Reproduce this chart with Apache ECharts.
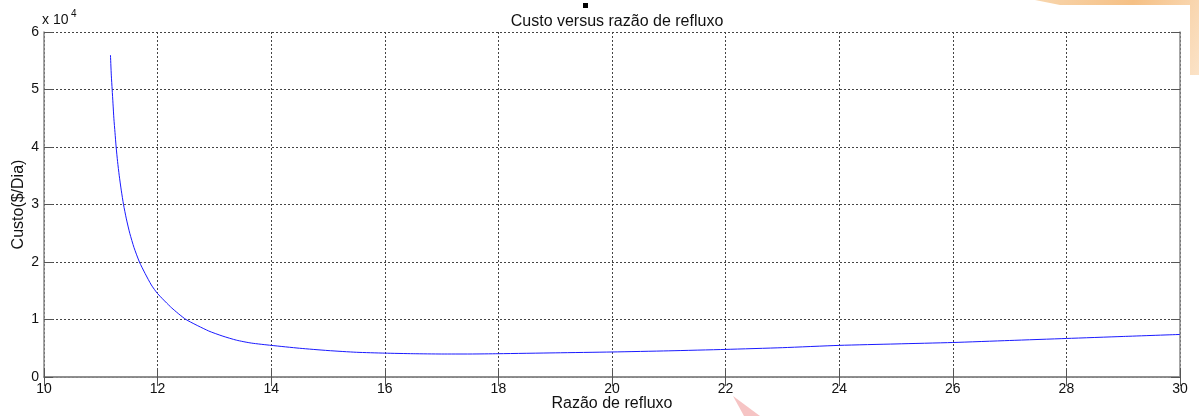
<!DOCTYPE html>
<html>
<head>
<meta charset="utf-8">
<script src="https://cdn.jsdelivr.net/npm/echarts@6/dist/echarts.min.js"></script>
<style>
html,body{margin:0;padding:0;background:#fff;}
#chart{width:1199px;height:416px;}
</style>
</head>
<body>
<div id="chart"></div>
<script>
// Razão de refluxo (x) and Custo ($/Dia) (y)
const refluxRatio = [11.17, 11.185, 11.20, 11.215, 11.23, 11.25, 11.27, 11.295, 11.325, 11.36, 11.40, 11.45, 11.51, 11.585, 11.68, 11.78, 11.89, 12.0, 12.25, 12.5, 12.9, 13.15, 13.39, 13.65, 14.0, 14.5, 15.0, 15.5, 16.0, 16.5, 17.0, 17.5, 18.0, 19.0, 20.0, 21.0, 22.0, 23.0, 24.0, 25.0, 26.0, 27.0, 28.0, 29.0, 30.0];
const cost = [56000, 52500, 50000, 47500, 45000, 42500, 40000, 37500, 35000, 32500, 30000, 27500, 25000, 22500, 20000, 18000, 16000, 14500, 12000, 10000, 8000, 7100, 6400, 5900, 5500, 5000, 4600, 4300, 4150, 4050, 4000, 4000, 4050, 4200, 4350, 4550, 4800, 5100, 5500, 5750, 6000, 6350, 6700, 7050, 7400];
const xTicks = [10, 12, 14, 16, 18, 20, 22, 24, 26, 28, 30];
const yTicks = [0, 10000, 20000, 30000, 40000, 50000, 60000];
const titleText = 'Custo versus razão de refluxo';
const xName = 'Razão de refluxo';
const yName = 'Custo($/Dia)';

const chart = echarts.init(document.getElementById('chart'), null, {renderer: 'canvas'});
const FONT = 'Liberation Sans, Arial, sans-serif';
const gridLine = {show: true, lineStyle: {type: [2, 2], color: '#444', width: 1}};
const tickIn = {show: true, inside: true, length: 9, lineStyle: {color: '#555', width: 1}};
const axisLn = {show: true, lineStyle: {color: '#888', width: 1.5}};

const data = refluxRatio.map((x, i) => [x, cost[i]]);

chart.setOption({
  animation: false,
  backgroundColor: '#fff',
  title: {
    text: titleText,
    left: 612, top: 9, textAlign: 'center',
    textStyle: {fontFamily: FONT, fontSize: 16, fontWeight: 'normal', color: '#111'}
  },
  grid: {left: 44, right: 19, top: 32, bottom: 39, containLabel: false, outerBoundsMode: 'none'},
  xAxis: [{
    type: 'value', min: xTicks[0], max: xTicks[xTicks.length - 1], interval: 2,
    position: 'bottom',
    name: xName, nameLocation: 'middle', nameGap: 19, nameMoveOverlap: false,
    nameTextStyle: {fontFamily: FONT, fontSize: 16, color: '#111'},
    axisLine: axisLn, axisTick: tickIn, splitLine: gridLine,
    axisLabel: {fontFamily: FONT, fontSize: 14, color: '#111', margin: 5}
  }, {
    type: 'value', min: xTicks[0], max: xTicks[xTicks.length - 1], interval: 2,
    position: 'top',
    axisLine: axisLn, axisTick: tickIn, splitLine: {show: false},
    axisLabel: {show: false}
  }],
  yAxis: [{
    type: 'value', min: yTicks[0], max: yTicks[yTicks.length - 1], interval: 10000,
    position: 'left',
    name: yName, nameLocation: 'middle', nameGap: 17, nameRotate: 90, nameMoveOverlap: false,
    nameTextStyle: {fontFamily: FONT, fontSize: 16, color: '#111'},
    axisLine: axisLn, axisTick: tickIn, splitLine: gridLine,
    axisLabel: {fontFamily: FONT, fontSize: 14, color: '#111', margin: 5,
      formatter: v => String(v / 10000)}
  }, {
    type: 'value', min: yTicks[0], max: yTicks[yTicks.length - 1], interval: 10000,
    position: 'right',
    axisLine: axisLn, axisTick: tickIn, splitLine: {show: false},
    axisLabel: {show: false}
  }],
  series: [{
    type: 'line', xAxisIndex: 0, yAxisIndex: 0,
    data: data, showSymbol: false, smooth: 0.2,
    lineStyle: {color: '#1a1aff', width: 1},
    silent: true
  }],
  graphic: [
    {type: 'text', left: 42, top: 13, style: {text: 'x 10', font: '14px ' + FONT, fill: '#111'}},
    {type: 'text', left: 71, top: 9, style: {text: '4', font: '10px ' + FONT, fill: '#111'}},
    {type: 'rect', shape: {x: 583, y: 3, width: 5, height: 5}, style: {fill: '#000'}},
    {type: 'polygon', shape: {points: [[1035, 0], [1199, 0], [1199, 75], [1190, 75], [1190, 5], [1060, 5]]},
      style: {fill: new echarts.graphic.LinearGradient(0, 0, 1, 1, [
        {offset: 0, color: '#f8d6ae'}, {offset: 0.5, color: '#f5c085'}, {offset: 1, color: '#fbe3c8'}])}},
    {type: 'polygon', shape: {points: [[733, 396], [744, 416], [760, 416]]},
      style: {fill: '#f6c4c4'}}
  ]
});
</script>
</body>
</html>
